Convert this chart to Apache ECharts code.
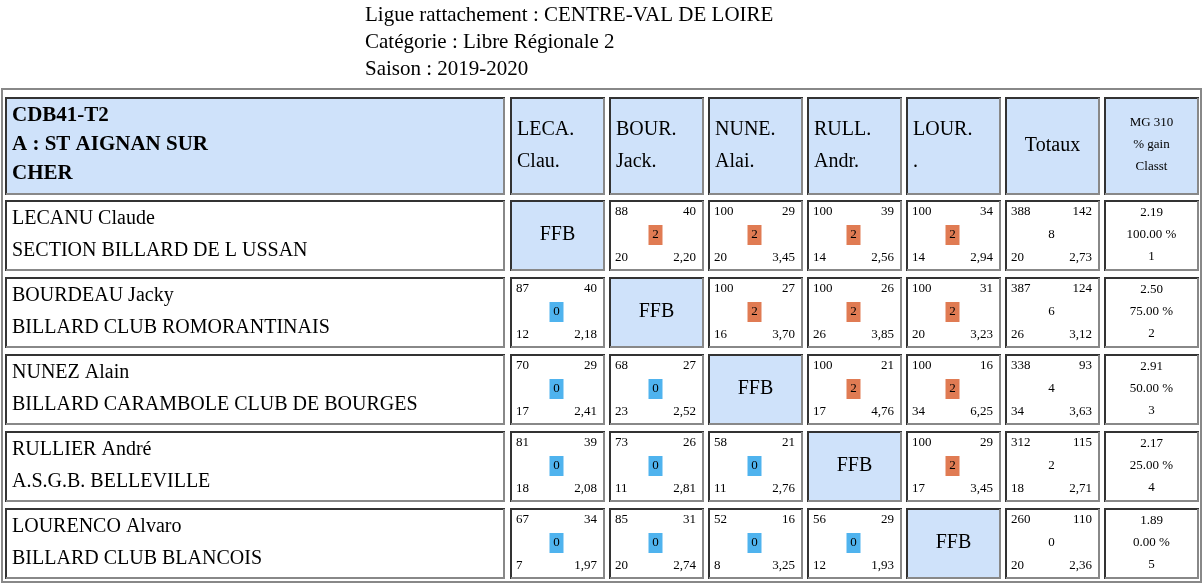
<!DOCTYPE html>
<html><head><meta charset="utf-8">
<script src="https://cdn.jsdelivr.net/npm/echarts@6/dist/echarts.min.js"></script>
<style>html,body{margin:0;padding:0;background:#fff}#main{width:1204px;height:586px}</style>
</head><body><div id="main"></div>
<script>
// données du tableau
var titleLines = ['Ligue rattachement : CENTRE-VAL DE LOIRE', 'Catégorie : Libre Régionale 2', 'Saison : 2019-2020'];
var teamHeader = ['CDB41-T2', 'A : ST AIGNAN SUR', 'CHER'];
var colHeaders = [['LECA.', 'Clau.'], ['BOUR.', 'Jack.'], ['NUNE.', 'Alai.'], ['RULL.', 'Andr.'], ['LOUR.', '.']];
var players = [
  ['LECANU Claude', 'SECTION BILLARD DE L USSAN'],
  ['BOURDEAU Jacky', 'BILLARD CLUB ROMORANTINAIS'],
  ['NUNEZ Alain', 'BILLARD CARAMBOLE CLUB DE BOURGES'],
  ['RULLIER André', 'A.S.G.B. BELLEVILLE'],
  ['LOURENCO Alvaro', 'BILLARD CLUB BLANCOIS']
];
// [points, reprises, pts match, série, moyenne]
var matches = [
  [null, [88, 40, 2, 20, '2,20'], [100, 29, 2, 20, '3,45'], [100, 39, 2, 14, '2,56'], [100, 34, 2, 14, '2,94']],
  [[87, 40, 0, 12, '2,18'], null, [100, 27, 2, 16, '3,70'], [100, 26, 2, 26, '3,85'], [100, 31, 2, 20, '3,23']],
  [[70, 29, 0, 17, '2,41'], [68, 27, 0, 23, '2,52'], null, [100, 21, 2, 17, '4,76'], [100, 16, 2, 34, '6,25']],
  [[81, 39, 0, 18, '2,08'], [73, 26, 0, 11, '2,81'], [58, 21, 0, 11, '2,76'], null, [100, 29, 2, 17, '3,45']],
  [[67, 34, 0, 7, '1,97'], [85, 31, 0, 20, '2,74'], [52, 16, 0, 8, '3,25'], [56, 29, 0, 12, '1,93'], null]
];
var totals = [[388, 142, 8, 20, '2,73'], [387, 124, 6, 26, '3,12'], [338, 93, 4, 34, '3,63'], [312, 115, 2, 18, '2,71'], [260, 110, 0, 20, '2,36']];
var mg = [['2.19', '100.00 %', '1'], ['2.50', '75.00 %', '2'], ['2.91', '50.00 %', '3'], ['2.17', '25.00 %', '4'], ['1.89', '0.00 %', '5']];

// mise en page
var colX = [5, 510, 609, 708, 807, 906, 1005, 1104];
var colW = [500, 95, 95, 95, 95, 95, 95, 95];
var rowY = [97, 200, 277, 354, 431, 508];
var rowH = [98, 71, 71, 71, 71, 71];
var FONT = 'Liberation Serif';
var BLUE = '#cfe2fa';

var els = [];
function txt(x, y, s, size, align, bold) {
  els.push({ type: 'text', x: x, y: y, style: {
    text: String(s), fontFamily: FONT, fontSize: size, fontWeight: bold ? 'bold' : 'normal',
    fill: '#000', textAlign: align || 'left', textVerticalAlign: 'middle' } });
}
function cell(c, r, fill) {
  var x = colX[c], y = rowY[r], w = colW[c], h = rowH[r];
  els.push({ type: 'rect', shape: { x: x, y: y, width: w, height: h }, style: { fill: fill, stroke: null } });
  els.push({ type: 'polyline', shape: { points: [[x + 1, y + h], [x + 1, y + 1], [x + w, y + 1]] }, style: { stroke: '#333', lineWidth: 2, fill: null } });
  els.push({ type: 'polyline', shape: { points: [[x + 1, y + h - 1], [x + w - 1, y + h - 1], [x + w - 1, y + 1]] }, style: { stroke: '#888', lineWidth: 2, fill: null } });
}
function mini(c, r, m, box) {
  var x = colX[c], y = rowY[r], w = colW[c];
  txt(x + 6, y + 12, m[0], 13);
  txt(x + w - 8, y + 12, m[1], 13, 'right');
  var cx = x + w / 2 - 1;
  if (box) {
    els.push({ type: 'rect', shape: { x: cx - 7, y: y + 25, width: 14, height: 20 }, style: { fill: m[2] > 0 ? '#e07b53' : '#4fb3ee' } });
  }
  txt(cx, y + 35, m[2], 13, 'center');
  txt(x + 6, y + 58, m[3], 13);
  txt(x + w - 8, y + 58, m[4], 13, 'right');
}

// titre
titleLines.forEach(function (t, i) { txt(365, 15 + i * 27, t, 21); });
// cadre extérieur
els.push({ type: 'rect', shape: { x: 2, y: 89, width: 1199, height: 493 }, style: { fill: null, stroke: '#888', lineWidth: 2 } });

// en-tête
cell(0, 0, BLUE);
teamHeader.forEach(function (t, i) { txt(12, 116 + i * 29, t, 21, 'left', true); });
colHeaders.forEach(function (h, i) {
  cell(i + 1, 0, BLUE);
  txt(colX[i + 1] + 7, 130, h[0], 20);
  txt(colX[i + 1] + 7, 162, h[1], 20);
});
cell(6, 0, BLUE);
txt(colX[6] + colW[6] / 2, 146, 'Totaux', 20, 'center');
cell(7, 0, BLUE);
['MG 310', '% gain', 'Classt'].forEach(function (t, i) { txt(colX[7] + colW[7] / 2, 123 + i * 22, t, 13, 'center'); });

// lignes joueurs
players.forEach(function (p, r) {
  var rr = r + 1;
  cell(0, rr, '#fff');
  txt(12, rowY[rr] + 19, p[0], 20);
  txt(12, rowY[rr] + 51, p[1], 20);
  matches[r].forEach(function (m, c) {
    if (m === null) {
      cell(c + 1, rr, BLUE);
      txt(colX[c + 1] + colW[c + 1] / 2, rowY[rr] + 35, 'FFB', 20, 'center');
    } else {
      cell(c + 1, rr, '#fff');
      mini(c + 1, rr, m, true);
    }
  });
  cell(6, rr, '#fff');
  mini(6, rr, totals[r], false);
  cell(7, rr, '#fff');
  mg[r].forEach(function (t, i) { txt(colX[7] + colW[7] / 2, rowY[rr] + 13 + i * 22, t, 13, 'center'); });
});

var chart = echarts.init(document.getElementById('main'));
chart.setOption({ animation: false, graphic: { elements: els } });
</script></body></html>
